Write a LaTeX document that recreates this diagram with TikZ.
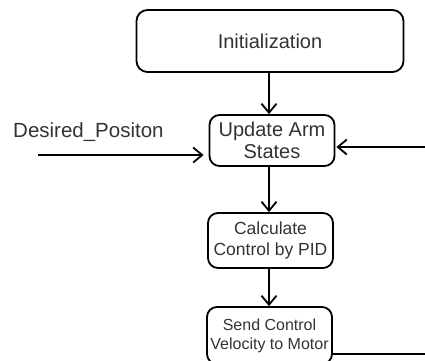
\documentclass[tikz,border=0pt]{standalone}
\usepackage{fontspec}
\setmainfont{Liberation Sans}
\usetikzlibrary{arrows.meta}
\definecolor{txt}{HTML}{333333}
\begin{document}
\begin{tikzpicture}[x=1pt,y=-1pt,
  box/.style={draw=black,line width=1.8pt,rounded corners=11pt,align=center,inner sep=0pt,text=txt},
  arr/.style={line width=1.8pt,-{Straight Barb[length=9pt,width=15pt]}},
  ln/.style={line width=1.8pt}]
\useasboundingbox (0,0) rectangle (425,360);
\clip (0,0) rectangle (425,360);
\node[box,minimum width=267pt,minimum height=62pt,font=\fontsize{20}{22}\selectfont] (init) at (270,41) {Initialization};
\node[box,minimum width=125pt,minimum height=51pt,rounded corners=10pt,font=\fontsize{20}{22}\selectfont] (update) at (272,140.5) {Update Arm\\States};
\node[box,minimum width=125pt,minimum height=55pt,rounded corners=10pt,font=\fontsize{17.5}{21}\selectfont] (calc) at (270.5,240.5) {Calculate\\Control by PID};
\node[box,minimum width=125pt,minimum height=57pt,rounded corners=10pt,font=\fontsize{16}{19}\selectfont] (send) at (269.5,335.5) {Send Control\\Velocity to Motor};
\node[anchor=base west,inner sep=0pt,text=txt,font=\fontsize{20.5}{22}\selectfont] (des) at (13,137) {Desired\_Positon};
\coordinate (din) at (38,155);
\coordinate (rin) at (425,147);
\coordinate (fb1) at (440,354);
\draw[arr] (init.south -| 269,0) -- (update.north -| 269,0);
\draw[arr] (update.south -| 269,0) -- (calc.north -| 269,0);
\draw[arr] (calc.south -| 269,0) -- (send.north -| 269,0);
\draw[arr,shorten >=5pt] (din) -- (din -| update.west);
\draw[arr,shorten >=1pt] (fb1 |- rin) -- (rin -| update.east);
\draw[ln] (fb1 -| send.east) -- (fb1) -- (fb1 |- rin);
\end{tikzpicture}
\end{document}
